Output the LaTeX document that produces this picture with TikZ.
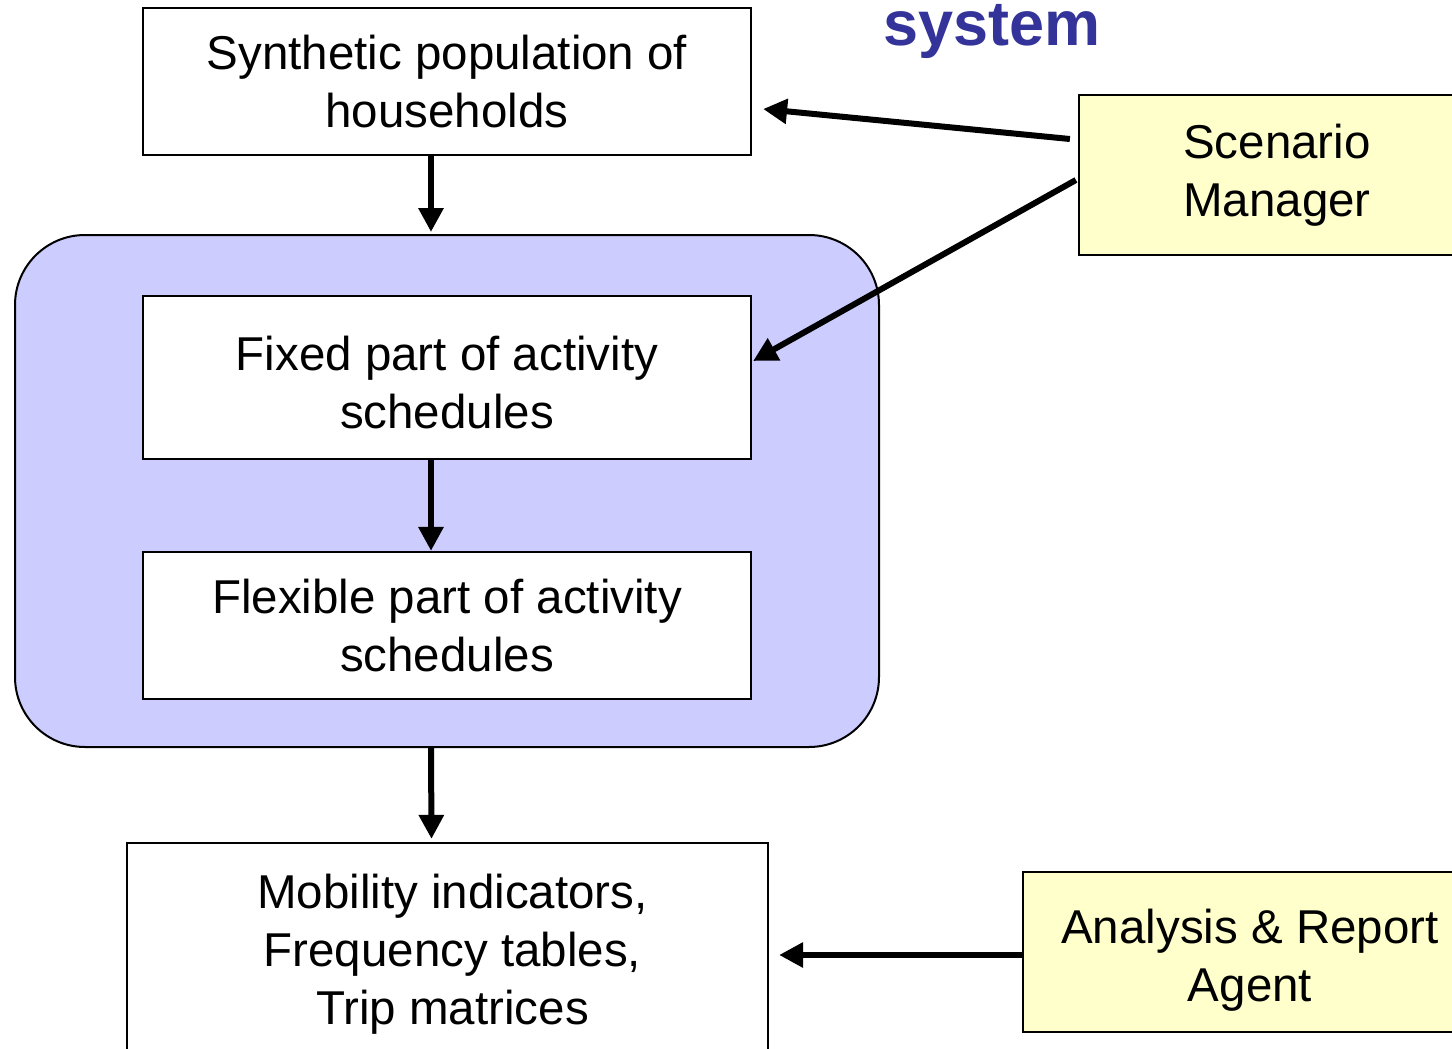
\documentclass[tikz,border=0pt]{standalone}
\usepackage{fontspec}
\setmainfont{Liberation Sans}
\usetikzlibrary{arrows.meta,calc}
\definecolor{lav}{HTML}{CCCCFF}
\definecolor{pale}{HTML}{FFFFCC}
\definecolor{ttl}{HTML}{333399}
\tikzset{
  box/.style={draw=black,line width=2.2pt,fill=white,align=center,inner sep=0pt,
    font=\fontsize{47.5}{58}\selectfont},
  ybox/.style={box,fill=pale},
  conn/.style={line width=6pt,-{Triangle[length=24pt,width=24pt]}},
}
\begin{document}
\begin{tikzpicture}[x=1pt,y=-1pt]
\clip (0,0) rectangle (1452,1049);
\fill[white] (0,0) rectangle (1452,1049);
\node[anchor=base west,text=ttl,font=\fontsize{63}{70}\selectfont\bfseries,inner sep=0pt] (title) at (883,46) {system};
\node[draw=black,line width=2pt,fill=lav,rounded corners=70pt,minimum width=864pt,minimum height=512pt,inner sep=0pt] (grp) at (447,491) {};
\node[box,minimum width=608pt,minimum height=147pt] (syn) at (447,81.5) {Synthetic population of\\households};
\node[box,minimum width=608pt,minimum height=163pt] (fix) at (447,377.5) {\rule{0pt}{45pt}Fixed part of activity\\schedules};
\node[box,minimum width=608pt,minimum height=147pt] (flex) at (447,625.5) {Flexible part of activity\\schedules};
\node[box,minimum width=641pt,minimum height=214pt] (mob) at (447.5,950) {\rule{0pt}{43pt}\hspace*{10pt}Mobility indicators,\\\hspace*{10pt}Frequency tables,\\\hspace*{10pt}Trip matrices};
\node[ybox,minimum width=396pt,minimum height=160pt] (scen) at (1277,175) {Scenario\\Manager};
\node[ybox,minimum width=454pt,minimum height=160pt] (anal) at (1250,952) {\rule{0pt}{51pt}Analysis \& Report\\Agent};
\draw[conn] ($(syn.south)+(-16,0)$) -- ($(grp.north)+(-16,-2)$);
\draw[conn] ($(fix.south)+(-16,0)$) -- ($(flex.north)+(-16,0)$);
\draw[conn] ($(grp.south)+(-16,0)$) -- ($(mob.north)+(-16,-3)$);
\draw[conn] ($(anal.west)+(0,3)$) -- ($(mob.east)+(10,5)$);
\draw[conn] ($(scen.west)+(-8,-36)$) -- ($(syn.east)+(11,27.5)$);
\draw[conn] ($(scen.west)+(-2,5)$) -- ($(fix.east)+(1,-16.5)$);
\end{tikzpicture}
\end{document}
